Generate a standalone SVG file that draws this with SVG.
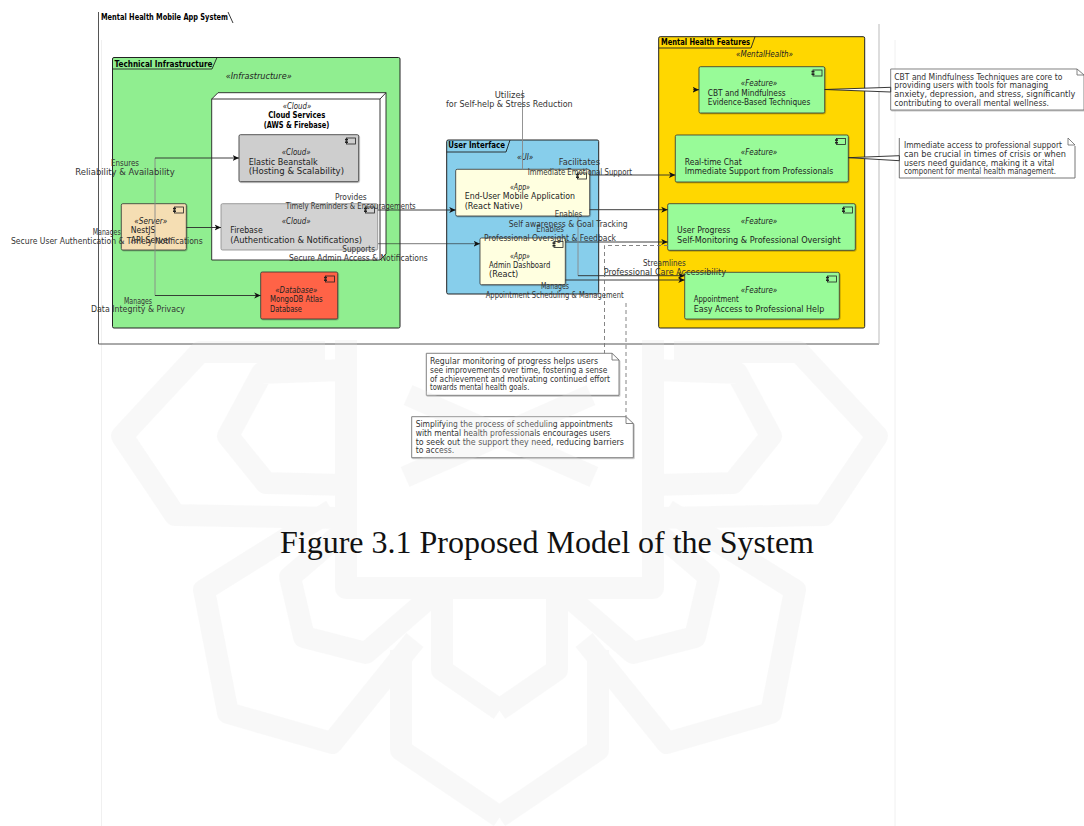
<svg xmlns="http://www.w3.org/2000/svg" width="1084" height="826" viewBox="0 0 1084 826">
<style>
text{font-family:"DejaVu Sans","Liberation Sans",sans-serif;font-size:9px;fill:#222}
.b{font-weight:bold;fill:#000}
.i{font-style:italic}
.l{fill:#333}
.n{font-size:8.6px;fill:#333}
.cap{font-family:"Liberation Serif","Times New Roman",serif;font-size:32px;fill:#111}
.box{stroke:#333;stroke-width:.8;filter:url(#sh)}
.pk{stroke:#222;stroke-width:1}
.tab{fill:none;stroke:#222;stroke-width:.9}
.cn{fill:none;stroke:#2a2a2a;stroke-width:.9;marker-end:url(#arr)}
.cg{fill:none;stroke:#888;stroke-width:.9}
.d{fill:none;stroke:#777;stroke-width:.9;stroke-dasharray:4 3}
.note{fill:#fff;stroke:#777;stroke-width:.9;filter:url(#sh)}
.wm{fill:none;stroke:#e4e4e4;stroke-width:22;stroke-linejoin:round}
.pg{stroke:#f0f0f0;stroke-width:1}
</style>
<defs>
<filter id="sh" x="-5%" y="-5%" width="110%" height="115%"><feDropShadow dx=".7" dy=".8" stdDeviation=".5" flood-color="#000" flood-opacity=".3"/></filter>
<marker id="arr" markerUnits="userSpaceOnUse" markerWidth="7" markerHeight="7" refX="6.5" refY="3.5" orient="auto"><path d="M0,0.5 L6.5,3.5 L0,6.5 L1.8,3.5z" fill="#111"/></marker>
<g id="ci"><rect x="0" y="0" width="9" height="6" fill="none" stroke="#222" stroke-width=".8"/><rect x="-1.5" y=".8" width="3" height="1.6" fill="#222"/><rect x="-1.5" y="3.4" width="3" height="1.6" fill="#222"/></g>
<g id="wmh">
<path class="wm" d="M325,352 L200,352 L122,436 L175,515 L340,518"/>
<path class="wm" stroke-width="18" d="M345,370 L262,373 L228,436 L266,483 L345,485"/>
<path class="wm" d="M332,510 L204,590 L228,713 L332,743 L415,640"/>
<path class="wm" d="M345,530 L290,577 L304,637 L366,653 L435,593"/>
<path class="wm" d="M401,650 L401,750 L500,817"/>
<path class="wm" d="M442,593 L442,670 L500,710"/>
<path class="wm" d="M408,395 L594,477"/>
<path class="wm" d="M346,340 L346,588 L500,588"/>
</g>
</defs>
<rect width="1084" height="826" fill="#fff"/>
<line class="pg" x1="101.5" y1="40" x2="101.5" y2="826"/>
<line class="pg" x1="895" y1="40" x2="895" y2="826"/>

<g id="system">
<path d="M98.5,12 V344 H879" fill="none" stroke="#555" stroke-width="1"/>
<path d="M879,24 V344" fill="none" stroke="#bbb" stroke-width="1"/>
<path class="tab" d="M228,12 L233,23"/>
<text class="b" x="101" y="20" textLength="127" lengthAdjust="spacingAndGlyphs">Mental Health Mobile App System</text>
</g>

<g id="technical-infrastructure">
<rect class="pk" x="112.5" y="57.5" width="287.5" height="270.5" rx="1.5" fill="#90EE90"/>
<path class="tab" d="M112.5,69 H212 L217,57.5"/>
<text class="b" x="114.5" y="66.7" textLength="98" lengthAdjust="spacingAndGlyphs">Technical Infrastructure</text>
<text class="i" x="225.7" y="78.7" textLength="66" lengthAdjust="spacingAndGlyphs">«Infrastructure»</text>
</g>

<g id="cloud-services">
<path d="M211.7,99 L218,92.7 H386 V254 L380,260 H211.7z" fill="#fff" stroke="#222" stroke-width=".9"/>
<path d="M211.7,99 H380 V260 M380,99 L386,92.7" fill="none" stroke="#222" stroke-width=".9"/>
<text class="i" x="282.7" y="108.7" textLength="28.5" lengthAdjust="spacingAndGlyphs">«Cloud»</text>
<text class="b" x="268.3" y="118.3" textLength="57" lengthAdjust="spacingAndGlyphs">Cloud Services</text>
<text class="b" x="263.7" y="128" textLength="65.6" lengthAdjust="spacingAndGlyphs">(AWS &amp; Firebase)</text>
</g>

<g id="elastic-beanstalk">
<rect class="box" x="239" y="134.7" width="119.7" height="47" rx="1.5" fill="#cecece"/>
<use href="#ci" x="346.5" y="138"/>
<text class="i" x="281.7" y="155.3" textLength="29" lengthAdjust="spacingAndGlyphs">«Cloud»</text>
<text x="248.7" y="165" textLength="69" lengthAdjust="spacingAndGlyphs">Elastic Beanstalk</text>
<text x="248.7" y="174.3" textLength="95.3" lengthAdjust="spacingAndGlyphs">(Hosting &amp; Scalability)</text>
</g>

<g id="firebase">
<rect x="221" y="203.7" width="156.7" height="46.3" rx="1.5" fill="#d2d2d2" stroke="#888" stroke-width=".8"/>
<use href="#ci" x="365.5" y="207"/>
<text class="i" x="281.7" y="224" textLength="29" lengthAdjust="spacingAndGlyphs">«Cloud»</text>
<text x="230.3" y="233.3" textLength="32.4" lengthAdjust="spacingAndGlyphs">Firebase</text>
<text x="230.3" y="243" textLength="131.7" lengthAdjust="spacingAndGlyphs">(Authentication &amp; Notifications)</text>
</g>

<g id="nestjs-api-server">
<rect class="box" x="121.3" y="203.7" width="65" height="46.3" rx="1.5" fill="#F5DEB3"/>
<use href="#ci" x="174.5" y="207"/>
<text class="i" x="134.3" y="224" textLength="33" lengthAdjust="spacingAndGlyphs">«Server»</text>
<text x="130.7" y="233.3" textLength="24.6" lengthAdjust="spacingAndGlyphs">NestJS</text>
<text x="130.7" y="243" textLength="40.3" lengthAdjust="spacingAndGlyphs">API Server</text>
</g>

<g id="mongodb-atlas">
<rect class="box" x="260.7" y="272" width="77" height="47" rx="1.5" fill="#FF6347"/>
<use href="#ci" x="325.5" y="276"/>
<text class="i" x="275.3" y="292.7" textLength="42" lengthAdjust="spacingAndGlyphs">«Database»</text>
<text x="270" y="302" textLength="52.7" lengthAdjust="spacingAndGlyphs">MongoDB Atlas</text>
<text x="270" y="311.7" textLength="32" lengthAdjust="spacingAndGlyphs">Database</text>
</g>

<g id="user-interface">
<rect class="pk" x="446.7" y="140" width="152" height="154" rx="1.5" fill="#87CEEB"/>
<path class="tab" d="M446.7,152 H506 L510,140"/>
<text class="b" x="448.3" y="148.3" textLength="56.7" lengthAdjust="spacingAndGlyphs">User Interface</text>
<text class="i" x="517" y="160.3" textLength="16.3" lengthAdjust="spacingAndGlyphs">«UI»</text>
</g>

<g id="end-user-app">
<rect class="box" x="455.7" y="169.3" width="134" height="46.7" rx="1.5" fill="#FFFFE0"/>
<use href="#ci" x="577.5" y="173"/>
<text class="i" x="510" y="190.3" textLength="20" lengthAdjust="spacingAndGlyphs">«App»</text>
<text x="464.7" y="199.3" textLength="110.3" lengthAdjust="spacingAndGlyphs">End-User Mobile Application</text>
<text x="464.7" y="208.7" textLength="58" lengthAdjust="spacingAndGlyphs">(React Native)</text>
</g>

<g id="admin-dashboard">
<rect class="box" x="480" y="238" width="85.3" height="46.7" rx="1.5" fill="#FFFFE0"/>
<use href="#ci" x="554" y="241.5"/>
<text class="i" x="510" y="258.7" textLength="20" lengthAdjust="spacingAndGlyphs">«App»</text>
<text x="489" y="268" textLength="61.3" lengthAdjust="spacingAndGlyphs">Admin Dashboard</text>
<text x="489" y="277.3" textLength="29.3" lengthAdjust="spacingAndGlyphs">(React)</text>
</g>

<g id="mental-health-features">
<rect class="pk" x="658.7" y="36.7" width="206" height="291.3" rx="1.5" fill="#FFD700"/>
<path class="tab" d="M658.7,48 H751 L755,36.7"/>
<text class="b" x="661" y="45" textLength="89" lengthAdjust="spacingAndGlyphs">Mental Health Features</text>
<text class="i" x="736" y="56.7" textLength="57" lengthAdjust="spacingAndGlyphs">«MentalHealth»</text>
</g>

<g id="cbt">
<rect class="box" x="699" y="66.7" width="125.7" height="46.3" rx="1.5" fill="#98FB98"/>
<use href="#ci" x="813" y="70"/>
<text class="i" x="740.7" y="86.3" textLength="36.6" lengthAdjust="spacingAndGlyphs">«Feature»</text>
<text x="707.7" y="96" textLength="78" lengthAdjust="spacingAndGlyphs">CBT and Mindfulness</text>
<text x="707.7" y="105.3" textLength="102.6" lengthAdjust="spacingAndGlyphs">Evidence-Based Techniques</text>
</g>

<g id="real-time-chat">
<rect class="box" x="675.3" y="135" width="173" height="47" rx="1.5" fill="#98FB98"/>
<use href="#ci" x="836.5" y="138.5"/>
<text class="i" x="740.7" y="155.3" textLength="36.6" lengthAdjust="spacingAndGlyphs">«Feature»</text>
<text x="684.7" y="165" textLength="57" lengthAdjust="spacingAndGlyphs">Real-time Chat</text>
<text x="684.7" y="174.3" textLength="148.6" lengthAdjust="spacingAndGlyphs">Immediate Support from Professionals</text>
</g>

<g id="user-progress">
<rect class="box" x="667.7" y="203.7" width="187.6" height="46.6" rx="1.5" fill="#98FB98"/>
<use href="#ci" x="843.5" y="207"/>
<text class="i" x="740.7" y="224" textLength="36.6" lengthAdjust="spacingAndGlyphs">«Feature»</text>
<text x="677" y="233.3" textLength="53.3" lengthAdjust="spacingAndGlyphs">User Progress</text>
<text x="677" y="243" textLength="163.7" lengthAdjust="spacingAndGlyphs">Self-Monitoring &amp; Professional Oversight</text>
</g>

<g id="appointment">
<rect class="box" x="684.7" y="272.3" width="154.6" height="46.7" rx="1.5" fill="#98FB98"/>
<use href="#ci" x="827.5" y="276"/>
<text class="i" x="740.7" y="292.7" textLength="36.6" lengthAdjust="spacingAndGlyphs">«Feature»</text>
<text x="693.7" y="302" textLength="45" lengthAdjust="spacingAndGlyphs">Appointment</text>
<text x="693.7" y="311.7" textLength="130.6" lengthAdjust="spacingAndGlyphs">Easy Access to Professional Help</text>
</g>

<g id="note-cbt">
<path class="note" d="M890.7,69 H1077 L1084,75 V110 H890.7z"/>
<path d="M1077,69 V75 H1084" fill="none" stroke="#666" stroke-width=".8"/>
<text class="n" x="894.3" y="79.7" textLength="168" lengthAdjust="spacingAndGlyphs">CBT and Mindfulness Techniques are core to</text>
<text class="n" x="894.3" y="88.3" textLength="154" lengthAdjust="spacingAndGlyphs">providing users with tools for managing</text>
<text class="n" x="894.3" y="97" textLength="181" lengthAdjust="spacingAndGlyphs">anxiety, depression, and stress, significantly</text>
<text class="n" x="894.3" y="105.7" textLength="154.7" lengthAdjust="spacingAndGlyphs">contributing to overall mental wellness.</text>
</g>

<g id="note-chat">
<path d="M899.3,138 V178 H1075 V146" fill="#fff" stroke="#666" stroke-width=".9"/>
<path d="M1068,138 V145 H1075 L1068,138" fill="#fff" stroke="#666" stroke-width=".8"/>
<text class="n" x="904" y="148.3" textLength="158" lengthAdjust="spacingAndGlyphs">Immediate access to professional support</text>
<text class="n" x="904" y="157" textLength="162" lengthAdjust="spacingAndGlyphs">can be crucial in times of crisis or when</text>
<text class="n" x="904" y="165.7" textLength="150.3" lengthAdjust="spacingAndGlyphs">users need guidance, making it a vital</text>
<text class="n" x="904" y="174.3" textLength="152" lengthAdjust="spacingAndGlyphs">component for mental health management.</text>
</g>

<g id="note-progress">
<path class="note" d="M426.3,353.3 H612 L619,360 V395.3 H426.3z"/>
<path d="M612,353.3 V360 H619" fill="none" stroke="#666" stroke-width=".8"/>
<text class="n" x="430" y="364.3" textLength="168" lengthAdjust="spacingAndGlyphs">Regular monitoring of progress helps users</text>
<text class="n" x="430" y="373.3" textLength="177.3" lengthAdjust="spacingAndGlyphs">see improvements over time, fostering a sense</text>
<text class="n" x="430" y="381.7" textLength="180" lengthAdjust="spacingAndGlyphs">of achievement and motivating continued effort</text>
<text class="n" x="430" y="390.3" textLength="99.3" lengthAdjust="spacingAndGlyphs">towards mental health goals.</text>
</g>

<g id="note-appointment">
<path class="note" d="M411.7,416.7 H626 L633.3,423.5 V457.7 H411.7z"/>
<path d="M626,416.7 V423.5 H633.3" fill="none" stroke="#666" stroke-width=".8"/>
<text class="n" x="415.7" y="427.3" textLength="197" lengthAdjust="spacingAndGlyphs">Simplifying the process of scheduling appointments</text>
<text class="n" x="415.7" y="436" textLength="194.6" lengthAdjust="spacingAndGlyphs">with mental health professionals encourages users</text>
<text class="n" x="415.7" y="444.7" textLength="208.3" lengthAdjust="spacingAndGlyphs">to seek out the support they need, reducing barriers</text>
<text class="n" x="415.7" y="453.3" textLength="38.6" lengthAdjust="spacingAndGlyphs">to access.</text>
</g>

<g id="connectors">
<path class="cg" d="M155,158 V295.5"/>
<path class="cn" d="M155,158 H239"/>
<path class="cn" d="M186.3,227.5 H221"/>
<path class="cn" d="M155,295.5 H260.7"/>
<path class="cn" d="M377.7,210 H455.7"/>
<path class="cn" d="M378,243.7 H480" stroke-opacity=".7"/>
<path class="cg" d="M522.5,90 V169.3"/>
<path class="cn" d="M693,89.7 H699"/>
<path class="cn" d="M589.7,175 H675.3"/>
<path class="cn" d="M589.7,209.7 H667.7"/>
<path class="cn" d="M565.3,242 H667.7"/>
<path class="cn" d="M565.3,280 H684.7"/>
<path class="cg" d="M578,216 V275.7"/>
<path class="cn" d="M578,275.7 H684.7"/>
<path class="d" d="M668,245.5 H604.5 V353.3"/>
<path class="d" stroke-width="1.2" d="M626,303 V416.7"/>
<path d="M824.7,89.5 L890.7,87.3 V92 Z" fill="#fff" stroke="#222" stroke-width=".9"/>
<path d="M848.3,157.7 L899.3,155.7 V160.7 Z" fill="#fff" stroke="#222" stroke-width=".9"/>
<g id="connector-labels">
<text class="l" x="111" y="166.3" textLength="28" lengthAdjust="spacingAndGlyphs">Ensures</text>
<text class="l" x="75.3" y="175" textLength="99.4" lengthAdjust="spacingAndGlyphs">Reliability &amp; Availability</text>
<text class="l" x="92.7" y="235" textLength="28" lengthAdjust="spacingAndGlyphs">Manages</text>
<text class="l" x="11" y="243.7" textLength="191.7" lengthAdjust="spacingAndGlyphs">Secure User Authentication &amp; Timely Notifications</text>
<text class="l" x="124" y="303.7" textLength="28" lengthAdjust="spacingAndGlyphs">Manages</text>
<text class="l" x="91" y="312.3" textLength="94" lengthAdjust="spacingAndGlyphs">Data Integrity &amp; Privacy</text>
<text class="l" x="335" y="200" textLength="31.7" lengthAdjust="spacingAndGlyphs">Provides</text>
<text class="l" x="285.7" y="208.7" textLength="130" lengthAdjust="spacingAndGlyphs">Timely Reminders &amp; Encouragements</text>
<text class="l" x="342.3" y="252.3" textLength="32.7" lengthAdjust="spacingAndGlyphs">Supports</text>
<text class="l" x="289" y="261" textLength="138.7" lengthAdjust="spacingAndGlyphs">Secure Admin Access &amp; Notifications</text>
<text class="l" x="494.7" y="97.7" textLength="30.3" lengthAdjust="spacingAndGlyphs">Utilizes</text>
<text class="l" x="446" y="106.7" textLength="126.7" lengthAdjust="spacingAndGlyphs">for Self-help &amp; Stress Reduction</text>
<text class="l" x="558.7" y="165.3" textLength="41.3" lengthAdjust="spacingAndGlyphs">Facilitates</text>
<text class="l" x="527.7" y="174.7" textLength="104.3" lengthAdjust="spacingAndGlyphs">Immediate Emotional Support</text>
<text class="l" x="554.7" y="217.3" textLength="27.6" lengthAdjust="spacingAndGlyphs">Enables</text>
<text class="l" x="508.7" y="227" textLength="119" lengthAdjust="spacingAndGlyphs">Self awareness &amp; Goal Tracking</text>
<text class="l" x="536.3" y="232" textLength="27.7" lengthAdjust="spacingAndGlyphs">Enables</text>
<text class="l" x="484" y="240.7" textLength="132" lengthAdjust="spacingAndGlyphs">Professional Oversight &amp; Feedback</text>
<text class="l" x="541" y="288.7" textLength="28" lengthAdjust="spacingAndGlyphs">Manages</text>
<text class="l" x="485.7" y="297.7" textLength="138" lengthAdjust="spacingAndGlyphs">Appointment Scheduling &amp; Management</text>
<text class="l" x="643" y="266.3" textLength="42.7" lengthAdjust="spacingAndGlyphs">Streamlines</text>
<text class="l" x="603.7" y="275" textLength="122.3" lengthAdjust="spacingAndGlyphs">Professional Care Accessibility</text>
</g>
</g>

<g id="watermark" opacity=".22">
<use href="#wmh"/>
<use href="#wmh" transform="matrix(-1 0 0 1 999 0)"/>
</g>

<text id="caption" class="cap" x="280" y="553" textLength="534" lengthAdjust="spacingAndGlyphs">Figure 3.1 Proposed Model of the System</text>
</svg>
